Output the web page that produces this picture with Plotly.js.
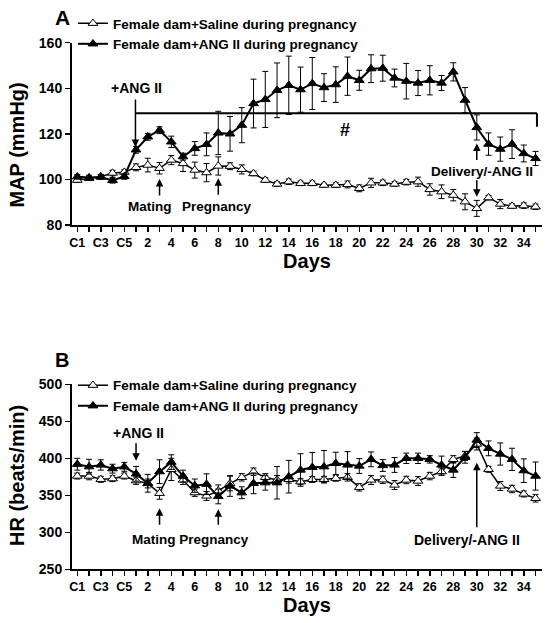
<!DOCTYPE html>
<html>
<head>
<meta charset="utf-8">
<script src="https://cdn.plot.ly/plotly-3.0.1.min.js"></script>
<style>html,body{margin:0;padding:0;background:#fff;}#chart{width:552px;height:623px;}</style>
</head>
<body>
<div id="chart"></div>
<script>
// Categories (control days C1-C5, then days 1-35)
const days = ['C1','C2','C3','C4','C5','1','2','3','4','5','6','7','8','9','10','11','12','13','14','15','16','17','18','19','20','21','22','23','24','25','26','27','28','29','30','31','32','33','34','35'];
const dayLabels = days.map((d, i) => (i % 2 === 0 ? d : ''));

const seriesSaline = 'Female dam+Saline during pregnancy';
const seriesAng = 'Female dam+ANG II during pregnancy';

// Panel A: MAP (mmHg)
const mapSaline = [99.7,100.5,101.2,102.8,103.2, 105.3,106.3,104.9,108.5,107,104.1,103,105.9, 105.8,104.4,102.6,99.7,98,99,98.3,98.3,97.5,97.5,97.8,96.1,98.5,98.5, 98,98.8,99,95.6,94.6,93.1,90.2,87.3,92,89.2,88.3,88.5,88];
const mapSalineErr = [1,0.8,1,1.2,1, 1.5,3,2.5,2,3.5,3.5,4,4, 1.5,2,1,1,1,1.2,1,1,0.8,1,1.5,1.5,2,1.2, 1,1.2,2,2.5,3,2.5,3.5,3.5,1,2,1,1.2,1.2];
const mapAng = [101.2,100.8,101.1,99.6,101.3, 113,118.7,121.6,116.5,110,113.6,115.4,120.4, 120,123.8,133.3,135.1,139.1,141.3,139.4,142.1,140.3,141.6,145.3,143.5,148.6,148.8, 144.5,143.1,142.3,143.5,142.3,147.2,134.8,122.8,115.5,113.3,115.5,111.4,109.2];
const mapAngErr = [1,1,1,1.2,1.2, 1.5,1.5,1.5,2.5,1.5,3,5,9.5, 7.6,7.7,10.7,12.3,12,12.8,9.9,11.4,6.1,7.8,8.4,4.4,6.1,5.7, 3.9,7.8,5.5,6.4,3.3,4,5.5,5.5,4.9,5.3,6.3,3.7,3.1];

// Panel B: HR (beats/min)
const hrSaline = [376,376,371.6,372.5,376, 369.8,366,352.7,385,370.7,353.6,349.1,356, 366,374.3,381.9,374.3,370.7,371.5,368.4,371.5,371.5,373,374.3,360.8,370.7,371, 363.9,370.7,369.3,376,381.9,398.6,403.1,419.3,385.1,362.6,358.5,351.8,345.9];
const hrSalineErr = [4,5,4,4,4, 5,6,8,15,6,5,6,8, 10,5,5,5,6,5,4,4,4,4,5,5,6,5, 6,5,6,5,5,5,6,8,4,6,5,4,5];
const hrAng = [392,388.7,391,386,388.5, 379,366.3,382,394.8,376,363,365,348.5, 362.6,353.5,366.2,367,367,375.2,384.2,387.8,388.6,393.2,391,389.6,398.6,390.3, 391,400,400,398.6,391,384.2,401.4,424.7,413.5,405.8,398.6,383.3,376];
const hrAngErr = [8,10,7,6,6, 10,12,16,10,8,9,14,10, 14,8,14,10,22,22,22,20,22,15,18,10,10,8, 10,7,7,5,12,10,8,10,10,15,15,16,19];

const FONT = 'Liberation Sans, Arial, sans-serif';
const bold = (size) => ({family: FONT, size: size, color: '#000', weight: 'bold'});

function salineTrace(y, err, xa, ya, lg) {
  return {
    type: 'scatter', mode: 'lines+markers', name: seriesSaline,
    x: days, y: y, xaxis: xa, yaxis: ya, legend: lg,
    line: {color: '#000', width: 1.5},
    marker: {symbol: 'triangle-up', size: 8.5, color: '#fff', line: {color: '#000', width: 1}},
    error_y: {type: 'data', array: err, visible: true, color: '#000', thickness: 1, width: 3}
  };
}
function angTrace(y, err, xa, ya, lg) {
  return {
    type: 'scatter', mode: 'lines+markers', name: seriesAng,
    x: days, y: y, xaxis: xa, yaxis: ya, legend: lg,
    line: {color: '#000', width: 2},
    marker: {symbol: 'triangle-up', size: 8.5, color: '#000', line: {color: '#000', width: 1}},
    error_y: {type: 'data', array: err, visible: true, color: '#000', thickness: 1, width: 3}
  };
}

const data = [
  salineTrace(mapSaline, mapSalineErr, 'x', 'y', 'legend'),
  angTrace(mapAng, mapAngErr, 'x', 'y', 'legend'),
  salineTrace(hrSaline, hrSalineErr, 'x2', 'y2', 'legend2'),
  angTrace(hrAng, hrAngErr, 'x2', 'y2', 'legend2')
];

function xAxis(anchor) {
  return {
    anchor: anchor, domain: [0, 1], type: 'category', categoryarray: days,
    range: [-0.45, 39.55], tickmode: 'array', tickvals: days, ticktext: dayLabels,
    ticks: 'outside', ticklen: 5, tickwidth: 1.5, tickcolor: '#000',
    showline: true, linewidth: 2, linecolor: '#000', showgrid: false, zeroline: false,
    tickfont: bold(12.5), fixedrange: true,
    title: {text: 'Days', font: bold(20), standoff: 3}
  };
}
function yAxis(anchor, domain, range, dtick) {
  return {
    anchor: anchor, domain: domain, range: range, dtick: dtick, tick0: range[0],
    ticks: 'outside', ticklen: 5, tickwidth: 1.5, tickcolor: '#000',
    showline: true, linewidth: 2, linecolor: '#000', showgrid: false, zeroline: false,
    tickfont: bold(14), fixedrange: true
  };
}

const arrowBase = {text: '', showarrow: true, arrowhead: 2, arrowsize: 1, arrowwidth: 1.5, arrowcolor: '#000', axref: 'pixel', ayref: 'pixel'};
const txt = (x, y, xref, yref, text, size, xanchor) => ({x: x, y: y, xref: xref, yref: yref, text: text, showarrow: false, font: bold(size), xanchor: xanchor || 'center', yanchor: 'middle'});
const ytitle = (y, text) => ({x: -0.117, y: y, xref: 'paper', yref: 'paper', text: text, textangle: -90, showarrow: false, font: bold(20), xanchor: 'center', yanchor: 'middle'});

const annotations = [
  // panel letters
  txt(-0.0202, 0.9719, 'paper', 'paper', 'A', 21),
  txt(-0.0223, 0.4222, 'paper', 'paper', 'B', 20),
  // y-axis titles
  ytitle(0.7665, 'MAP (mmHg)'),
  ytitle(0.2360, 'HR (beats/min)'),
  // Panel A
  txt(5.08, 140, 'x', 'y', '+ANG II', 14),
  Object.assign({}, arrowBase, {x: 4.95, y: 114.2, xref: 'x', yref: 'y', ax: 0, ay: -49}),
  txt(22.8, 121.6, 'x', 'y', '#', 18),
  Object.assign({}, arrowBase, {x: 7, y: 100.2, xref: 'x', yref: 'y', ax: 0, ay: 18}),
  txt(6.19, 88, 'x', 'y', 'Mating', 13.5),
  Object.assign({}, arrowBase, {x: 12, y: 100.5, xref: 'x', yref: 'y', ax: 0, ay: 18}),
  txt(11.85, 88, 'x', 'y', 'Pregnancy', 13.5),
  Object.assign({}, arrowBase, {x: 34, y: 115.8, xref: 'x', yref: 'y', ax: 0, ay: 18}),
  txt(29.95, 103.35, 'x', 'y', 'Delivery/-ANG II', 13.5, 'left'),
  Object.assign({}, arrowBase, {x: 34, y: 92.4, xref: 'x', yref: 'y', ax: 0, ay: -18}),
  // Panel B
  txt(5.17, 434.6, 'x2', 'y2', '+ANG II', 14),
  Object.assign({}, arrowBase, {x: 5, y: 396.8, xref: 'x2', yref: 'y2', ax: 0, ay: -19}),
  Object.assign({}, arrowBase, {x: 7, y: 332.4, xref: 'x2', yref: 'y2', ax: 0, ay: 18}),
  Object.assign({}, arrowBase, {x: 12, y: 331.1, xref: 'x2', yref: 'y2', ax: 0, ay: 17}),
  txt(4.45, 289.6, 'x2', 'y2', 'Mating Pregnancy', 13.5, 'left'),
  Object.assign({}, arrowBase, {x: 34, y: 394, xref: 'x2', yref: 'y2', ax: 0, ay: 66}),
  txt(28.45, 289.6, 'x2', 'y2', 'Delivery/-ANG II', 14, 'left')
];

const shapes = [
  {type: 'line', xref: 'x', yref: 'y', x0: 4.95, x1: 39.12, y0: 129.07, y1: 129.07, line: {color: '#000', width: 2}},
  {type: 'line', xref: 'x', yref: 'y', x0: 39.12, x1: 39.12, y0: 129.07, y1: 123.07, line: {color: '#000', width: 2}}
];

const legendBase = {xanchor: 'left', yanchor: 'top', bgcolor: 'rgba(0,0,0,0)', borderwidth: 0, font: bold(13.5), tracegroupgap: 0, itemclick: false, itemdoubleclick: false};

const layout = {
  width: 552, height: 623,
  margin: {l: 72, r: 10, t: 0, b: 0},
  paper_bgcolor: '#fff', plot_bgcolor: '#fff',
  font: {family: FONT, color: '#000'},
  showlegend: true,
  legend: Object.assign({}, legendBase, {x: 0.002, y: 0.9872}),
  legend2: Object.assign({}, legendBase, {x: 0.002, y: 0.4062}),
  xaxis: xAxis('y'),
  yaxis: yAxis('x', [0.6388, 0.9315], [80, 160], 20),
  xaxis2: xAxis('y2'),
  yaxis2: yAxis('x2', [0.0862, 0.3831], [250, 500], 50),
  annotations: annotations,
  shapes: shapes
};

Plotly.newPlot('chart', data, layout, {displayModeBar: false, staticPlot: true});
</script>
</body>
</html>
